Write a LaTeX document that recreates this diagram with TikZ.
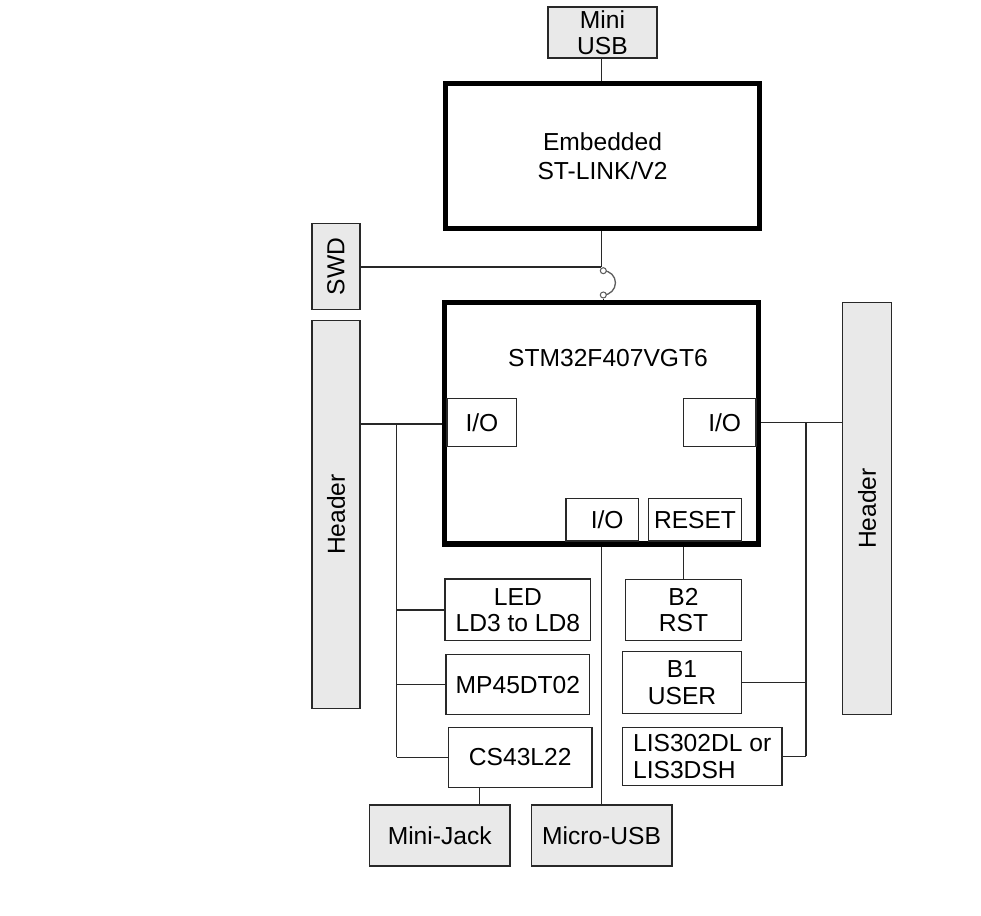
\documentclass[tikz,border=0pt]{standalone}
\usepackage{fontspec}
\setmainfont{Liberation Sans}
\usepackage{tikz}
\usetikzlibrary{positioning}
\definecolor{part_fill}{RGB}{233,233,233}
\definecolor{wire}{RGB}{40,40,40}
\tikzset{
block/.style={rectangle, draw=wire, line width=0.8pt, fill=white, text=black, inner sep=0pt, align=center, font=\fontsize{14}{15}\selectfont},
conn_box/.style={block, fill=part_fill},
chip/.style={rectangle, draw=black, line width=3.1pt, inner sep=0pt, align=center, font=\fontsize{14}{16.5}\selectfont},
wire_line/.style={draw=wire, line width=0.75pt},
jumper_pad/.style={circle, draw=wire!75, line width=0.6pt, fill=white, minimum size=0.12cm, inner sep=0pt}
}

\begin{document}
\begin{tikzpicture}[x=0.02cm, y=0.02cm]
    \useasboundingbox (0,0) rectangle (981,916);
    \node[conn_box, minimum width=2.18cm, minimum height=1.02cm] (mini_usb) at (602.5,883.5) {Mini\\USB};
    \node[chip, minimum width=6.28cm, minimum height=2.89cm] (st_link) at (602.5,760) {Embedded\\ST-LINK/V2};
    \node[conn_box, rotate=90, minimum width=1.72cm, minimum height=0.96cm] (swd) at (336,649.5) {SWD};
    \node[conn_box, rotate=90, minimum width=7.75cm, minimum height=0.96cm] (hdr_left) at (336,401.5) {Header};
    \node[conn_box, rotate=90, minimum width=8.23cm, minimum height=0.98cm] (hdr_right) at (867.2,407.5) {Header};
    \node[chip, minimum width=6.28cm, minimum height=4.83cm] (mcu) at (601.7,492.5) {};
    \node[font=\fontsize{14}{15}\selectfont] (mcu_name) at (608,558) {STM32F407VGT6};
    \node[block, minimum width=1.39cm, minimum height=0.97cm] (io_left) at (481.9,493.5) {I/O};
    \node[block, minimum width=1.45cm, minimum height=0.97cm] (io_right) at (719.7,493.5) {\hspace{0.2cm}I/O};
    \node[block, minimum width=1.45cm, minimum height=0.85cm] (io_bottom) at (602.2,396.3) {\hspace{0.2cm}I/O};
    \node[block, minimum width=1.87cm, minimum height=0.85cm] (reset) at (695,396.3) {RESET};
    \node[block, minimum width=2.91cm, minimum height=1.23cm] (led) at (517.9,306.1) {LED\\LD3 to LD8};
    \node[block, minimum width=2.87cm, minimum height=1.2cm] (mic) [below=0.25cm of led] {MP45DT02};
    \node[block, minimum width=2.87cm, minimum height=1.21cm] (dac) at (520.2,158.5) {CS43L22};
    \node[conn_box, minimum width=2.81cm, minimum height=1.22cm] (jack) at (439.7,80.5) {Mini-Jack};
    \node[conn_box, minimum width=2.81cm, minimum height=1.22cm] (micro_usb) [right=0.4cm of jack] {Micro-USB};
    \node[block, minimum width=2.33cm, minimum height=1.23cm] (btn_rst) at (683.5,306) {B2\\RST};
    \node[block, minimum width=2.39cm, minimum height=1.23cm] (btn_user) at (682,233.5) {B1\\USER};
    \node[block, minimum width=3.19cm, minimum height=1.17cm, align=left] (accel) at (702.2,159.5) {LIS302DL or\\LIS3DSH};
    \coordinate (swd_join) at (601.3,649);
    \coordinate (lbus_top) at (396.7,492);
    \coordinate (rbus_top) at (806,493.7);
    \coordinate (jack_tap) at (479.3,0);
    \draw[wire_line] (swd_join |- mini_usb.south) -- (swd_join |- st_link.north);
    \draw[wire_line] (swd_join |- st_link.south) -- (swd_join);
    \draw[wire_line] (swd.south |- swd_join) -- (swd_join);
    \draw[wire_line, draw=wire!75] (603.3,645.3) arc[start angle=90, end angle=-90, radius=0.243cm];
    \node[jumper_pad] (jmp_a) at (603.3,645.3) {};
    \node[jumper_pad] (jmp_b) at (603.3,621) {};
    \draw[wire_line] (jmp_b.south) -- (jmp_b.south |- mcu.north);
    \draw[wire_line] (hdr_left.south |- lbus_top) -- (mcu.west |- lbus_top);
    \draw[wire_line] (lbus_top) -- (lbus_top |- dac.west);
    \draw[wire_line] (lbus_top |- led.west) -- (led.west);
    \draw[wire_line] (lbus_top |- mic.west) -- (mic.west);
    \draw[wire_line] (lbus_top |- dac.west) -- (dac.west);
    \draw[wire_line] (mcu.east |- rbus_top) -- (hdr_right.north |- rbus_top);
    \draw[wire_line] (rbus_top) -- (rbus_top |- accel.east);
    \draw[wire_line] (btn_user.east) -- (rbus_top |- btn_user.east);
    \draw[wire_line] (accel.east) -- (rbus_top |- accel.east);
    \draw[wire_line] (micro_usb.north) -- (micro_usb.north |- mcu.south);
    \draw[wire_line] (btn_rst.north) -- (btn_rst.north |- mcu.south);
    \draw[wire_line] (jack_tap |- dac.south) -- (jack_tap |- jack.north);
\end{tikzpicture}
\end{document}
